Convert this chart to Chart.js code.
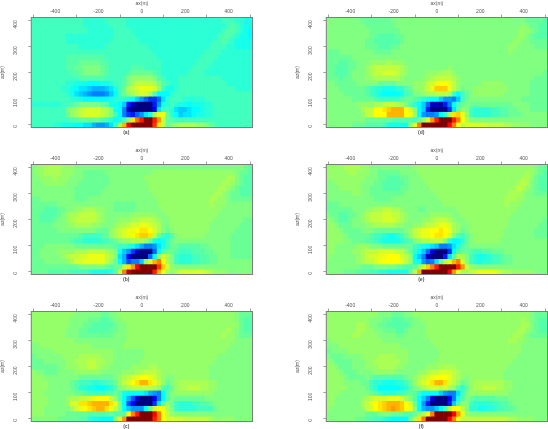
<!DOCTYPE html>
<html>
<head>
<meta charset="utf-8">
<style>
  html, body { margin: 0; background: #fff; overflow: hidden; }
  canvas { position: absolute; }
</style>
<script src="https://cdn.jsdelivr.net/npm/chart.js@4/dist/chart.umd.min.js"></script>
</head>
<body>
<script>
const xValues = [-500,-480,-460,-440,-420,-400,-380,-360,-340,-320,-300,-280,-260,-240,-220,-200,-180,-160,-140,-120,-100,-80,-60,-40,-20,0,20,40,60,80,100,120,140,160,180,200,220,240,260,280,300,320,340,360,380,400,420,440,460,480,500];
const zValues = [400,380,360,340,320,300,280,260,240,220,200,180,160,140,120,100,80,60,40,20,0];
const xTicks = [-400,-200,0,200,400];
const zTicks = [0,100,200,300,400];
const captions = ["(a)","(b)","(c)","(d)","(e)","(f)"];

// amplitudes, clipped to +-20, rows from z=400 down to z=0
const panelA = [
[-3,-3,-3,-3,-3,-3,-3,-3,-3,-3, -3,-3,-4,-4,-4,-4,-4,-3,-3,-3, -3,-3,-4,-4,-4,-4,-4,-4,-4,-4, -4,-4,-4,-4,-4,-4,-4,-4,-4,-4, -4,-4,-4,-4,-3,-3,-3,-4,-4,-5, -5],
[-3,-3,-3,-3,-3,-3,-3,-3,-3,-3, -3,-3,-4,-4,-4,-4,-4,-4,-3,-3, -3,-3,-4,-4,-4,-4,-4,-4,-4,-4, -4,-4,-4,-4,-4,-4,-4,-4,-4,-4, -4,-4,-4,-4,-4,-3,-2,-3,-4,-5, -5],
[-3,-3,-3,-3,-3,-3,-3,-3,-3,-3, -3,-3,-3,-4,-4,-4,-4,-4,-4,-3, -3,-3,-3,-4,-4,-4,-4,-4,-4,-4, -4,-4,-4,-4,-4,-4,-4,-4,-4,-4, -4,-4,-4,-4,-3,-2,-2,-3,-4,-5, -6],
[-3,-3,-3,-3,-3,-3,-3,-3,-4,-4, -4,-4,-4,-4,-4,-4,-4,-4,-4,-3, -3,-3,-3,-3,-4,-4,-4,-4,-4,-4, -4,-4,-4,-4,-4,-4,-4,-4,-4,-4, -4,-4,-4,-3,-2,-2,-3,-4,-5,-5, -6],
[-3,-3,-3,-3,-3,-3,-3,-3,-4,-4, -4,-4,-4,-4,-4,-4,-4,-4,-3,-3, -3,-3,-3,-3,-3,-4,-4,-4,-4,-4, -4,-4,-4,-4,-4,-4,-4,-4,-4,-4, -4,-4,-3,-3,-2,-3,-4,-5,-5,-5, -5],
[-3,-3,-3,-3,-3,-3,-3,-3,-3,-3, -3,-4,-4,-4,-4,-4,-4,-3,-3,-3, -3,-3,-3,-3,-3,-3,-3,-4,-4,-4, -4,-4,-4,-4,-4,-4,-4,-4,-4,-4, -4,-3,-3,-3,-3,-4,-4,-5,-5,-5, -5],
[-3,-3,-3,-3,-3,-3,-3,-3,-3,-3, -3,-3,-3,-3,-3,-3,-3,-3,-3,-3, -3,-3,-3,-3,-3,-3,-3,-3,-4,-4, -4,-4,-4,-4,-4,-4,-4,-4,-4,-4, -3,-3,-3,-3,-4,-4,-4,-4,-4,-4, -4],
[-3,-3,-3,-3,-3,-3,-3,-3,-2,-2, -2,-2,-2,-2,-2,-2,-2,-3,-3,-3, -3,-3,-3,-3,-3,-3,-3,-3,-3,-4, -4,-4,-4,-4,-4,-4,-4,-4,-4,-3, -3,-3,-3,-4,-4,-4,-4,-4,-4,-4, -4],
[-3,-3,-3,-3,-3,-3,-3,-3,-2,-2, -2,-1,-1,-1,-1,-1,-2,-2,-3,-3, -3,-3,-3,-3,-3,-3,-3,-3,-3,-3, -4,-4,-4,-4,-4,-4,-4,-4,-3,-3, -3,-3,-4,-4,-4,-4,-4,-4,-4,-4, -4],
[-3,-3,-3,-3,-3,-3,-3,-3,-2,-2, -1,-1,0,0,0,0,-1,-2,-3,-3, -3,-3,-3,-2,-2,-2,-3,-3,-3,-3, -4,-4,-4,-4,-4,-4,-4,-3,-3,-3, -3,-4,-4,-4,-4,-4,-4,-4,-4,-4, -4],
[-3,-3,-3,-3,-3,-3,-3,-3,-3,-2, -2,-1,0,0,0,0,-1,-2,-3,-3, -3,-3,-2,-1,-1,-1,-1,-1,-2,-3, -4,-4,-4,-4,-4,-4,-3,-3,-3,-3, -4,-4,-4,-4,-4,-4,-4,-4,-4,-4, -4],
[-3,-3,-3,-3,-3,-3,-3,-3,-3,-3, -3,-2,-2,-2,-2,-2,-2,-3,-3,-3, -3,-2,0,1,1,1,1,1,0,-2, -3,-4,-4,-4,-3,-3,-3,-3,-3,-3, -3,-3,-3,-3,-4,-4,-4,-4,-4,-4, -4],
[-3,-3,-3,-3,-3,-3,-3,-3,-4,-4, -5,-5,-5,-6,-6,-6,-5,-5,-4,-3, -3,-2,0,2,3,3,3,3,2,0, -2,-3,-4,-4,-3,-3,-3,-3,-3,-3, -3,-3,-3,-3,-3,-4,-4,-4,-4,-4, -4],
[-3,-3,-3,-3,-3,-3,-3,-4,-4,-5, -6,-7,-7,-8,-9,-9,-9,-8,-7,-5, -3,-1,2,3,4,5,5,5,4,1, -3,-5,-5,-4,-3,-3,-3,-3,-3,-3, -3,-3,-3,-3,-3,-3,-3,-4,-4,-4, -4],
[-3,-3,-3,-3,-3,-3,-3,-3,-4,-5, -7,-8,-9,-10,-11,-11,-11,-10,-8,-6, -3,-1,1,2,3,4,4,2,-2,-6, -6,-6,-4,-3,-3,-3,-3,-3,-3,-3, -3,-3,-3,-3,-3,-3,-3,-3,-3,-3, -3],
[-3,-3,-3,-3,-3,-3,-3,-3,-3,-4, -4,-5,-6,-6,-6,-6,-6,-6,-5,-4, -4,-4,-5,-6,-8,-10,-12,-14,-14,-12, -7,-4,-3,-3,-3,-4,-4,-4,-4,-4, -3,-3,-3,-3,-3,-3,-3,-3,-3,-3, -3],
[-4,-4,-4,-4,-4,-4,-4,-3,-3,-2, -1,0,0,0,0,0,-1,-2,-5,-5, -6,-8,-15,-18,-20,-20,-20,-20,-15,-10, -5,-4,-3,-4,-5,-5,-6,-5,-5,-5, -4,-4,-3,-3,-3,-3,-3,-3,-3,-3, -3],
[-3,-3,-3,-3,-3,-3,-3,-3,0,1, 2,3,4,4,4,4,3,2,0,-5, -6,-11,-18,-20,-20,-20,-20,-20,-16,-7, -3,-3,-4,-7,-8,-8,-7,-6,-6,-5, -4,-4,-3,-3,-3,-3,-3,-3,-3,-3, -3],
[-3,-3,-3,-3,-3,-3,-3,-3,-1,1, 2,3,4,4,4,4,3,2,0,-3, -6,-11,-14,-15,-12,-10,-7,-5,2,5, 5,-1,-4,-6,-8,-7,-7,-6,-5,-5, -4,-4,-3,-3,-3,-3,-3,-3,-3,-3, -3],
[-3,-3,-3,-3,-3,-3,-3,-3,-3,-2, -2,-1,-1,-1,-1,-1,-2,-3,-4,-6, -5,-3,1,7,12,15,20,20,15,10, 3,-1,-2,-3,-3,-3,-3,-3,-3,-3, -3,-3,-3,-3,-3,-3,-3,-3,-3,-3, -3],
[-3,-3,-3,-3,-3,-4,-4,-5,-5,-5, -6,-6,-7,-7,-9,-10,-10,-9,-7,-3, 2,9,16,20,20,20,20,20,14,7, 3,-1,0,1,2,2,2,2,1,1, 0,-1,-2,-3,-3,-3,-3,-3,-3,-3, -3]
];

const panelB = [
[0,1,1,2,2,2,2,1,1,1, 0,0,0,0,0,0,0,0,0,0, 0,0,0,0,0,0,0,0,0,0, 0,0,0,0,0,0,0,0,0,0, 0,0,0,0,0,0,0,0,0,-1, -2],
[0,1,1,2,2,2,2,1,1,1, 0,0,-1,-1,-1,-1,-1,0,0,0, 0,0,0,0,0,0,0,0,1,1, 1,1,1,1,1,1,1,1,1,1, 1,1,1,1,1,1,1,0,-1,-1, -2],
[0,0,1,1,1,2,1,1,1,0, 0,0,-1,-1,-1,-1,-1,-1,0,0, 0,0,0,0,0,0,1,1,1,1, 1,1,1,1,1,1,1,1,1,1, 1,1,1,1,1,2,2,0,-1,-2, -2],
[0,0,0,1,1,1,1,1,0,0, 0,-1,-1,-1,-1,-1,-1,-1,0,0, 0,0,0,0,0,0,0,1,1,1, 1,1,1,1,1,1,1,1,1,1, 1,1,1,1,2,2,1,0,-1,-2, -2],
[0,0,0,0,0,0,0,0,0,0, -1,-1,-1,-1,-1,-1,-1,0,0,0, 0,0,0,0,0,0,0,1,1,1, 1,1,1,1,1,1,1,1,1,1, 1,1,1,2,2,1,0,-1,-2,-2, -2],
[0,0,0,0,0,0,0,0,0,0, -1,-1,-1,-1,-1,-1,0,0,0,0, 0,0,0,0,0,0,0,0,1,1, 1,1,1,1,1,1,1,1,1,1, 1,1,2,2,1,0,-1,-1,-2,-2, -2],
[-1,-1,0,0,0,0,0,0,0,0, -1,-1,-1,0,0,0,0,0,0,0, 0,0,0,0,0,0,0,0,0,1, 1,1,1,1,1,1,1,1,1,1, 1,2,2,1,1,0,-1,-1,-1,-1, -1],
[-1,-1,-1,-1,-1,-1,0,0,0,0, 0,0,0,0,0,0,0,0,0,-1, -1,-1,-1,-1,0,0,0,0,0,1, 1,1,1,1,1,1,1,1,1,1, 1,2,1,1,1,0,0,0,0,0, 0],
[-1,-1,-1,-2,-2,-2,-1,-1,0,0, 1,1,2,2,2,1,1,0,0,-1, -1,-1,-1,-1,0,0,0,0,0,0, 1,1,1,1,1,1,1,1,1,1, 1,1,1,1,0,0,0,0,0,0, 0],
[-1,-1,-2,-2,-2,-2,-1,0,1,2, 2,3,3,3,3,2,1,0,0,0, 0,0,0,1,1,1,1,1,1,0, 0,1,1,1,1,1,1,1,1,1, 1,1,1,0,0,0,0,0,0,0, 0],
[-1,-1,-2,-2,-2,-1,0,0,1,2, 3,3,3,3,3,2,1,0,0,0, 1,1,1,2,2,3,3,3,2,1, 0,0,1,1,1,1,1,1,1,1, 1,1,0,0,0,0,0,0,0,-1, -1],
[-1,-1,-1,-1,-1,0,0,0,1,1, 2,2,2,2,1,1,0,0,0,1, 2,2,3,4,4,5,5,4,3,2, 0,0,1,1,1,1,1,1,1,1, 1,0,0,0,0,0,0,0,-1,-1, -1],
[-1,-1,-1,-1,-1,-1,0,0,0,0, 0,0,0,0,0,-1,-1,-1,1,2, 3,4,5,5,6,7,7,6,4,2, 0,-1,0,1,1,1,1,1,1,1, 1,0,0,0,0,0,0,-1,-1,-1, -1],
[-1,-1,-1,-1,-1,-1,-1,-1,-1,-1, -1,-2,-3,-3,-3,-3,-2,-1,1,2, 3,4,5,6,7,8,8,7,3,-1, -3,-4,-2,0,1,1,1,1,1,1, 0,0,0,0,0,0,-1,-1,-1,-1, -1],
[-1,-1,-1,-1,-1,-1,-1,-1,-1,-2, -3,-3,-4,-4,-4,-4,-3,-3,-2,-1, 0,1,1,2,2,2,1,-1,-5,-6, -5,-3,-1,0,0,0,0,0,0,0, 0,0,0,0,0,0,-1,-1,-1,-1, -1],
[-1,-1,-1,0,0,0,0,0,0,0, -1,-1,-1,-1,-1,-1,-1,-1,-1,-2, -3,-3,-4,-5,-7,-9,-11,-11,-10,-7, -5,-3,-1,-1,-2,-2,-2,-2,-2,-1, -1,0,0,0,0,0,-1,-1,-1,-1, -1],
[-1,-1,0,0,0,0,1,1,1,1, 2,2,2,3,3,3,3,2,1,0, -5,-8,-10,-14,-18,-20,-20,-20,-12,-6, -2,-1,-1,-2,-3,-3,-3,-2,-2,-2, -1,-1,0,0,0,0,-1,-1,-1,-1, -1],
[-1,-1,0,0,0,0,0,1,2,3, 3,4,4,5,5,5,5,3,2,0, -7,-9,-16,-20,-20,-20,-20,-12,-6,1, 4,2,0,-3,-4,-4,-4,-3,-3,-2, -2,-1,-1,0,0,0,-1,-1,-1,-1, -1],
[-1,-1,-1,0,0,0,0,0,1,2, 4,4,5,5,5,5,5,3,1,-1, -6,-9,-13,-11,-11,-8,1,4,9,11, 6,2,0,-3,-4,-4,-4,-3,-3,-2, -2,-1,-1,0,0,0,0,0,0,0, 0],
[-1,-1,-1,-1,-1,-1,-1,-1,-1,-1, -1,0,0,0,0,0,0,-1,-2,-1, -1,3,7,10,16,20,20,20,20,14, 8,4,1,0,0,0,0,0,0,0, 0,0,0,0,0,0,0,0,0,0, 0],
[-1,-1,-1,-1,-2,-2,-2,-2,-2,-3, -3,-3,-3,-4,-5,-5,-5,-5,-4,-2, 3,11,18,20,20,20,20,20,15,9, 5,2,1,2,4,4,4,4,4,4, 3,2,1,1,1,0,0,0,0,0, 0]
];

const panelC = [
[1,1,1,1,1,1,1,1,1,1, 0,0,0,0,0,0,-1,-1,0,0, 1,1,1,1,1,1,1,1,1,1, 1,1,1,1,1,1,1,1,1,1, 1,1,1,1,1,1,1,0,-1,-1, -1],
[1,1,1,1,1,1,1,1,1,0, 0,0,0,-1,-1,-1,-2,-2,-1,0, 0,1,1,1,1,1,1,1,1,1, 1,1,1,1,1,1,1,1,1,1, 1,1,1,1,1,1,1,0,-1,-2, -2],
[1,1,1,1,1,1,1,1,1,0, 0,0,-1,-1,-2,-2,-2,-2,-2,-1, 0,0,1,1,1,1,1,1,1,1, 1,1,1,1,1,1,1,1,1,1, 1,1,1,1,1,1,1,1,-1,-2, -2],
[1,1,1,1,1,1,1,1,0,0, 0,-1,-1,-2,-2,-2,-2,-2,-1,-1, 0,0,1,1,1,1,1,1,1,1, 1,1,1,1,1,1,1,1,1,1, 1,1,1,1,1,2,1,0,-1,-2, -2],
[1,1,1,1,1,1,1,1,0,0, 0,-1,-1,-1,-1,-1,-1,-1,-1,0, 0,0,1,1,1,1,1,1,1,1, 1,1,1,1,1,1,1,1,1,1, 1,1,1,1,2,1,1,0,-1,-1, -1],
[1,1,1,1,1,1,1,1,1,1, 0,0,0,0,0,0,0,0,0,0, 0,0,1,1,1,1,1,1,1,1, 1,1,1,1,1,1,1,1,1,1, 1,1,1,1,1,1,1,0,0,0, 0],
[0,0,1,1,1,1,1,1,1,1, 1,1,1,1,0,0,0,0,0,0, 0,1,1,1,1,1,1,1,1,1, 1,1,1,1,1,1,1,1,1,1, 1,1,1,1,1,1,0,0,0,0, 0],
[0,0,0,0,0,1,1,1,1,1, 1,1,1,1,1,1,1,1,1,0, 0,0,0,0,0,0,1,1,1,1, 1,1,1,1,1,1,1,1,1,1, 1,1,1,1,1,0,0,0,0,0, 0],
[-1,0,0,0,0,0,0,1,1,1, 1,2,2,2,2,2,1,1,1,0, 0,0,0,0,0,0,1,1,1,1, 1,1,1,1,1,1,1,1,1,1, 1,1,1,0,0,0,0,0,0,0, 0],
[-1,-1,-1,0,0,0,0,0,1,1, 2,2,2,3,3,2,2,1,1,0, 0,0,0,0,0,1,1,1,1,1, 1,1,1,1,1,1,1,1,1,1, 1,1,0,0,0,0,0,0,0,0, 0],
[-1,-1,-1,-1,-1,-1,0,0,1,1, 1,2,2,3,3,2,1,1,0,0, 0,0,0,1,1,1,1,2,2,1, 1,1,1,1,1,1,1,1,1,1, 1,0,0,0,0,0,0,0,0,0, 0],
[1,0,0,-1,-1,-1,0,0,0,0, 1,1,1,1,1,1,0,0,0,0, 0,1,1,1,2,2,3,3,3,2, 1,1,1,1,1,1,1,1,1,1, 1,0,0,0,0,0,0,0,0,0, 0],
[1,1,1,0,0,0,0,0,0,0, 0,-1,-1,-1,-1,-1,-1,-1,-1,0, 1,2,3,4,5,6,6,5,4,2, 1,0,0,1,1,1,1,1,1,1, 1,0,0,0,0,0,0,0,0,0, 0],
[1,1,1,1,0,0,0,0,0,-1, -2,-3,-3,-3,-4,-4,-3,-3,-2,-1, 1,3,4,6,7,9,9,7,5,3, 1,-1,0,1,2,2,2,2,2,2, 2,1,1,0,0,0,0,0,0,0, 0],
[1,1,1,1,0,0,0,0,0,-1, -2,-4,-4,-5,-5,-6,-6,-5,-4,-2, 0,1,2,3,3,3,3,3,2,1, -2,-3,-1,1,2,2,3,3,3,2, 2,1,1,0,0,0,0,0,0,0, 0],
[1,1,1,0,0,0,0,0,0,0, -1,-1,-2,-3,-3,-3,-3,-2,-2,-1, -2,-5,-6,-6,-6,-6,-7,-9,-10,-11, -6,-2,0,1,1,1,1,1,1,1, 1,1,0,0,0,0,0,0,0,0, 0],
[1,1,1,1,0,0,0,0,1,2, 2,3,3,4,5,6,6,6,3,1, -2,-6,-9,-13,-17,-20,-20,-20,-16,-11, -6,-2,0,-1,-1,-1,-1,-1,-1,-1, 0,0,0,0,0,0,0,0,0,0, 0],
[1,1,1,1,0,0,0,0,1,4, 4,7,7,8,9,9,9,9,7,5, 0,-6,-13,-16,-20,-20,-20,-20,-14,-7, -2,1,0,-3,-4,-4,-4,-3,-3,-2, -2,-1,0,0,0,0,0,0,0,0, 0],
[1,1,1,0,0,0,0,0,0,2, 4,5,6,7,8,9,9,7,5,3, 0,-6,-8,-10,-10,-10,-6,-1,4,6, 5,2,0,-3,-4,-4,-4,-4,-3,-3, -3,-3,-1,0,0,0,0,0,0,0, 0],
[1,1,1,0,0,0,0,0,-1,-1, -1,-1,-1,-2,-2,-2,-2,-2,-1,-2, -2,-2,6,11,15,20,20,20,16,11, 6,3,1,0,0,0,0,0,0,0, 0,0,0,0,0,0,0,0,0,0, 0],
[0,0,0,0,0,0,-1,-1,-1,-1, -1,-2,-2,-4,-5,-5,-6,-6,-6,1, 4,10,20,20,20,20,20,20,15,11, 6,4,4,4,4,3,3,3,3,3, 3,2,1,1,1,1,1,0,0,0, 0]
];

const panelD = [
[0,0,0,0,0,0,0,0,-1,-1, -1,-1,-1,-1,-1,0,0,0,0,0, 0,0,0,0,0,0,0,0,0,0, 0,0,0,0,0,0,0,0,0,0, 0,0,0,0,0,0,-1,-1,-1,-1, -2],
[0,0,0,0,0,0,0,0,0,-1, -1,-1,-1,-1,-1,-1,0,0,0,0, 0,0,0,0,0,0,0,0,0,0, 0,0,0,0,0,0,0,0,0,0, 0,0,0,0,0,1,0,-1,-1,-2, -2],
[0,0,0,0,0,0,0,0,0,0, -1,-1,-1,-1,-1,-1,-1,0,0,0, 0,0,0,0,0,0,0,0,0,0, 0,0,0,0,0,0,0,0,0,0, 0,0,0,0,1,1,1,0,-1,-2, -2],
[0,0,0,0,0,0,0,0,0,0, -1,-1,-2,-2,-2,-2,-1,-1,0,0, 0,0,0,0,0,0,0,0,0,0, 0,0,0,0,0,0,0,0,0,0, 0,0,0,0,1,1,0,-1,-2,-2, -2],
[0,0,0,0,0,0,0,0,0,-1, -1,-2,-2,-2,-2,-2,-2,-1,0,0, 0,0,0,0,0,0,0,0,0,0, 0,0,0,0,0,0,0,0,0,0, 0,0,0,1,1,0,0,-1,-1,-1, -1],
[0,0,0,0,0,0,0,0,0,-1, -1,-1,-2,-2,-2,-1,-1,0,0,0, 0,0,0,0,0,0,0,0,0,0, 0,0,0,0,0,0,0,0,0,0, 0,0,1,1,0,0,0,0,-1,-1, -1],
[-1,-1,-1,0,0,0,0,0,0,0, 0,-1,-1,-1,-1,0,0,0,0,0, 0,0,0,0,0,0,0,0,0,0, 0,0,0,0,0,0,0,0,0,0, 0,0,1,0,0,0,0,0,0,0, 0],
[-1,-1,-1,-1,-1,-1,0,0,0,0, 0,0,0,0,0,0,0,0,0,0, 0,0,0,0,0,0,0,0,0,0, 0,0,0,0,0,0,0,0,0,0, 0,0,0,0,0,0,0,0,0,0, 0],
[-1,-1,-1,-2,-2,-1,-1,0,0,0, 1,1,1,1,2,1,1,1,0,0, 0,0,0,0,0,0,0,0,0,0, 0,0,0,0,0,0,0,0,0,0, 0,0,0,0,0,0,0,0,0,0, 0],
[-1,-1,-2,-2,-2,-1,-1,0,0,1, 2,3,3,3,3,3,3,2,1,0, 0,0,0,0,0,0,0,0,1,0, 0,0,0,0,0,0,0,0,0,0, 0,0,0,0,0,0,0,0,0,0, 0],
[-1,-1,-2,-2,-2,-1,0,0,0,1, 2,3,3,4,4,4,3,2,1,0, 0,0,0,1,1,1,2,2,2,1, 0,0,0,0,0,0,0,0,0,0, 0,0,0,0,0,0,0,0,0,0, -1],
[-1,-1,-1,-2,-1,-1,0,0,0,1, 1,2,2,2,2,2,2,1,0,0, 0,0,1,1,2,3,3,3,3,2, 1,0,0,0,0,0,0,0,0,0, 0,0,0,0,0,0,0,0,-1,-1, -1],
[0,0,-1,-1,-1,-1,-1,0,0,0, 0,0,-1,-1,-1,-1,0,0,0,0, 1,1,1,3,4,5,6,6,5,3, 1,0,0,0,0,0,1,1,1,1, 1,0,0,0,0,0,0,-1,-1,-1, -1],
[0,0,0,-1,-1,-1,-1,-1,-1,-2, -3,-4,-4,-5,-5,-5,-4,-4,-2,-1, 1,1,2,3,5,8,8,8,5,3, 1,-1,0,0,1,1,1,1,1,1, 1,1,0,0,0,0,0,-1,-1,-1, -1],
[0,0,0,0,-1,-1,-1,-1,-1,-2, -3,-4,-5,-6,-6,-6,-6,-5,-3,-2, 0,0,1,2,2,3,3,3,2,-3, -6,-3,-1,0,1,1,1,1,1,1, 1,0,0,0,0,0,0,-1,-1,-1, -1],
[0,0,0,0,0,0,-1,-1,-1,-1, -1,-2,-3,-3,-3,-3,-3,-2,-1,-1, -2,-3,-4,-5,-6,-6,-8,-10,-10,-11, -8,-3,-1,0,0,0,0,0,0,0, 0,0,0,0,0,-1,-1,-1,-1,-1, -1],
[0,0,0,0,0,0,0,1,1,1, 1,2,2,3,3,3,2,2,0,-2, -4,-6,-8,-12,-18,-18,-19,-15,-11,-6, -3,-1,0,-1,-1,-1,-1,-1,-1,-1, -1,-1,-1,0,0,0,0,-1,-1,-1, -1],
[0,0,0,0,0,0,0,0,2,3, 3,6,6,7,8,9,9,9,6,4, 0,-6,-8,-15,-20,-20,-20,-20,-14,-7, -2,1,0,-3,-4,-4,-4,-4,-3,-3, -2,-2,-1,-1,0,0,0,-1,-1,-1, -1],
[0,0,0,0,0,0,0,0,1,3, 3,6,6,6,9,9,9,9,6,5, 1,-6,-10,-11,-11,-10,-6,-3,2,7, 8,5,1,-3,-4,-4,-4,-4,-3,-3, -2,-2,-1,-1,-1,0,0,0,0,0, 0],
[0,0,0,0,0,0,0,0,0,-1, -1,-1,-1,-1,-1,-2,-2,-2,-2,-2, -3,-1,1,4,10,15,20,20,20,15, 11,6,2,0,0,0,0,0,0,0, 0,0,0,0,0,0,0,0,0,0, 0],
[0,0,0,0,0,0,-1,-1,-1,-2, -2,-2,-2,-3,-5,-5,-5,-5,-5,1, 5,11,20,20,20,20,20,20,16,11, 6,3,4,4,4,4,4,3,3,3, 3,2,2,1,1,1,1,0,0,0, 0]
];

const panelE = [
[1,1,1,1,2,2,2,2,1,1, 0,0,0,0,0,0,0,0,0,0, 1,1,1,1,1,1,1,1,1,1, 1,1,1,1,1,1,1,1,1,1, 1,1,1,1,1,1,1,1,0,-1, -1],
[1,1,1,1,1,2,2,1,1,1, 0,0,-1,-1,-1,-1,-1,0,0,0, 0,1,1,1,1,1,1,1,1,1, 1,1,1,1,1,1,1,1,1,1, 1,1,1,1,1,1,2,1,0,-1, -2],
[1,1,1,1,1,1,1,1,1,0, 0,0,-1,-1,-2,-2,-2,-1,-1,0, 0,0,1,1,1,1,1,1,1,1, 1,1,1,1,1,1,1,1,1,1, 1,1,1,1,1,2,2,1,-1,-2, -2],
[0,0,1,1,1,1,1,1,0,0, 0,-1,-1,-2,-2,-2,-2,-2,-1,0, 0,0,0,1,1,1,1,1,1,1, 1,1,1,1,1,1,1,1,1,1, 1,1,1,1,2,3,2,0,-1,-2, -2],
[0,0,0,1,1,1,1,1,0,0, -1,-1,-1,-2,-2,-2,-2,-1,-1,0, 0,0,0,0,1,1,1,1,1,1, 1,1,1,1,1,1,1,1,1,1, 1,1,1,2,3,2,1,0,-1,-2, -2],
[0,0,0,0,0,0,1,1,0,0, -1,-1,-1,-1,-1,-1,-1,-1,0,0, 0,0,0,0,0,1,1,1,1,1, 1,1,1,1,1,1,1,1,1,1, 1,1,2,2,2,1,0,0,-1,-1, -1],
[0,0,0,0,0,0,0,0,0,0, 0,-1,-1,-1,-1,0,0,0,0,0, 0,0,0,0,0,0,1,1,1,1, 1,1,1,1,1,1,1,1,1,1, 1,2,2,2,1,1,0,0,0,0, 0],
[-1,-1,-1,0,0,0,0,0,0,0, 0,0,0,0,0,0,0,0,0,0, 0,0,0,0,0,0,0,1,1,1, 1,1,1,1,1,1,1,1,1,1, 1,2,1,1,1,0,0,0,0,0, 0],
[-1,-1,-1,-1,-1,-1,0,0,0,1, 1,2,2,3,3,2,2,1,0,0, 0,-1,-1,0,0,0,0,0,0,0, 1,1,1,1,1,1,1,1,1,1, 1,1,1,1,0,0,0,0,0,0, 0],
[0,-1,-1,-2,-2,-1,-1,0,1,2, 3,3,3,4,4,3,3,2,1,0, 0,0,0,0,1,1,1,1,1,0, 0,1,1,1,1,1,1,1,1,1, 1,1,1,0,0,0,0,0,0,0, 0],
[1,0,-1,-2,-2,-1,0,0,1,2, 3,3,3,4,4,4,3,2,1,0, 0,0,1,1,2,3,3,3,2,1, 0,0,1,1,1,1,1,1,1,1, 1,1,0,0,0,0,0,0,0,0, -1],
[1,1,0,-1,-1,-1,0,0,0,1, 1,2,2,2,2,2,1,1,0,0, 1,1,2,3,3,4,5,5,4,2, 1,0,0,1,1,1,1,1,1,1, 1,1,0,0,0,0,0,0,0,-1, -1],
[1,1,1,0,-1,-1,-1,-1,0,0, 0,-1,-1,-1,-1,-1,-1,-1,0,1, 3,4,5,5,6,6,7,6,5,2, 1,-1,0,1,1,1,1,1,1,1, 1,0,0,0,0,0,0,0,-1,-1, -1],
[1,1,1,1,0,-1,-1,-1,-1,-1, -2,-3,-3,-4,-5,-5,-4,-3,-1,1, 3,4,5,5,6,7,7,6,4,0, -2,-3,-1,0,1,1,1,1,1,1, 1,0,0,0,0,0,0,0,-1,-1, -1],
[1,1,1,1,0,0,-1,-1,-1,-2, -2,-3,-4,-5,-5,-5,-5,-4,-3,-2, 0,1,2,2,3,3,3,0,-4,-6, -6,-4,-1,0,1,1,1,1,1,1, 0,0,0,0,0,0,0,0,0,0, 0],
[1,1,0,0,0,0,0,1,1,1, 0,0,0,-1,-1,-1,-1,-1,-1,-1, -3,-4,-5,-6,-7,-8,-11,-11,-10,-7, -5,-2,-1,0,0,0,0,0,0,0, 0,0,0,0,0,0,0,0,0,0, 0],
[1,1,0,0,0,0,1,1,2,3, 3,3,4,4,4,4,3,3,1,-1, -4,-6,-8,-12,-17,-20,-20,-20,-14,-6, -2,-1,-1,-2,-3,-3,-2,-2,-1,-1, -1,0,0,0,0,0,0,0,0,0, 0],
[1,0,0,0,0,0,0,1,2,3, 4,4,5,5,6,6,6,4,3,1, -6,-8,-11,-18,-20,-20,-20,-15,-7,-2, 2,2,0,-3,-4,-5,-5,-4,-3,-3, -2,-1,-1,0,0,0,0,0,0,0, 0],
[0,0,0,0,0,0,0,1,2,3, 3,4,5,6,6,6,6,5,3,1, -5,-6,-10,-12,-11,-7,-1,3,5,9, 11,4,0,-3,-4,-5,-4,-4,-3,-3, -2,-1,-1,0,0,0,0,0,0,0, 0],
[0,0,0,0,0,0,0,0,-1,-1, -1,0,0,0,0,0,-1,-1,-2,-2, -1,1,4,8,11,15,20,20,20,20, 15,10,3,1,0,0,0,0,0,0, 0,0,0,0,0,0,0,0,0,0, 0],
[0,0,0,0,-1,-1,-1,-2,-2,-2, -3,-3,-4,-4,-5,-5,-5,-5,-5,-1, 3,9,20,20,20,20,20,20,16,10, 5,2,2,3,4,5,5,5,5,4, 3,2,2,1,1,1,1,1,0,0, 0]
];

const panelF = [
[1,1,1,1,1,1,1,1,1,1, 1,1,0,0,0,-1,-1,-1,0,0, 1,1,1,1,1,1,1,1,1,1, 1,1,1,1,1,1,1,1,1,1, 1,1,1,1,1,1,1,0,-1,-1, -1],
[1,1,1,1,1,1,1,1,1,1, 0,0,0,-1,-1,-2,-2,-2,-1,-1, 0,0,1,1,1,1,1,1,1,1, 1,1,1,1,1,1,1,1,1,1, 1,1,1,1,1,2,1,0,-1,-2, -2],
[1,1,1,1,1,1,1,2,2,1, 0,0,-1,-1,-2,-2,-2,-2,-2,-1, 0,0,0,1,1,1,1,1,1,1, 1,1,1,1,1,1,1,1,1,1, 1,1,1,1,1,2,2,0,-1,-2, -2],
[1,1,1,1,1,1,1,2,2,1, 1,0,0,-1,-1,-1,-2,-2,-1,0, 0,0,0,1,1,1,1,1,1,1, 1,1,1,1,1,1,1,1,1,1, 1,1,1,1,2,2,1,0,-1,-2, -2],
[1,1,1,1,1,1,2,2,1,1, 1,1,0,0,0,0,-1,-1,0,0, 0,0,0,1,1,1,1,1,1,1, 1,1,1,1,1,1,1,1,1,1, 1,1,1,2,2,1,0,-1,-1,-1, -1],
[0,1,1,1,1,1,1,1,1,1, 1,1,1,0,0,0,0,0,0,0, 0,0,0,0,1,1,1,1,1,1, 1,1,1,1,1,1,1,1,1,1, 1,1,2,2,1,1,0,0,0,0, 0],
[0,0,0,1,1,1,1,1,1,1, 1,1,1,1,1,1,1,0,0,0, 0,0,0,0,0,1,1,1,1,1, 1,1,1,1,1,1,1,1,1,1, 1,1,1,1,1,0,0,0,0,0, 0],
[-1,0,0,0,0,1,1,1,1,1, 1,1,1,1,1,1,1,1,1,0, 0,0,0,0,0,0,1,1,1,1, 1,1,1,1,1,1,1,1,1,1, 1,1,1,1,1,0,0,0,0,0, 0],
[0,-1,-1,-1,0,0,0,0,1,1, 1,1,2,2,2,2,1,1,1,0, 0,0,0,0,0,0,1,1,1,1, 1,1,1,1,1,1,1,1,1,1, 1,1,1,1,0,0,0,0,0,0, 0],
[1,0,-1,-1,-1,-1,0,0,0,1, 1,2,2,2,2,2,2,1,1,0, 0,0,0,0,0,1,1,1,1,1, 1,1,1,1,1,1,1,1,1,1, 1,1,1,0,0,0,0,0,0,0, 0],
[1,1,0,-1,-1,-1,0,0,0,1, 1,1,2,2,2,2,1,1,0,0, 0,0,0,1,1,1,2,2,2,2, 1,1,1,1,1,1,1,1,1,1, 1,1,0,0,0,0,0,0,0,0, 0],
[1,1,1,0,-1,-1,-1,0,0,0, 0,1,1,1,1,1,0,0,0,0, 0,1,1,2,3,3,4,4,4,3, 2,1,1,1,1,1,1,1,1,1, 1,0,0,0,0,0,0,0,0,0, 0],
[1,1,1,1,0,-1,-1,-1,-1,0, -1,-2,-2,-2,-2,-2,-2,-2,-1,0, 1,2,3,4,5,6,6,6,5,3, 2,1,0,1,1,1,1,1,1,1, 1,0,0,0,0,0,0,0,0,0, 0],
[1,1,1,1,0,0,0,0,-1,-1, -3,-4,-4,-5,-5,-5,-4,-4,-3,-1, 1,3,4,5,7,9,9,7,4,3, 1,-1,0,1,2,2,2,2,2,2, 2,1,1,0,0,0,0,0,0,0, 0],
[1,1,1,1,1,0,0,0,0,-1, -3,-4,-6,-6,-6,-6,-6,-5,-4,-2, 0,1,2,3,4,4,3,4,2,1, -2,-4,-1,1,2,2,3,3,3,2, 2,1,1,0,0,0,0,0,0,0, 0],
[1,1,1,0,0,0,0,0,0,0, -1,-2,-3,-4,-4,-4,-3,-3,-2,-1, -2,-4,-6,-6,-6,-6,-8,-10,-11,-11, -7,-3,0,1,1,1,1,1,1,1, 1,1,0,0,0,0,0,0,0,0, 0],
[1,1,0,0,0,0,0,0,1,2, 3,4,4,4,5,5,5,4,2,0, -2,-6,-8,-11,-17,-20,-20,-20,-16,-11, -5,-2,0,-1,-2,-2,-2,-2,-2,-1, -1,-1,0,0,0,0,0,0,0,0, 0],
[1,1,0,0,0,0,0,0,2,3, 5,6,7,8,9,9,9,8,6,4, -1,-6,-10,-15,-20,-20,-20,-20,-15,-8, -3,1,0,-3,-4,-4,-4,-4,-3,-3, -2,-2,-1,0,0,0,0,0,0,0, 0],
[1,0,0,0,0,0,0,0,1,3, 4,6,7,8,9,10,9,8,6,5, 0,-6,-9,-10,-10,-8,-6,-2,3,6, 6,3,0,-4,-4,-5,-5,-4,-4,-3, -3,-2,-2,-1,0,0,0,0,0,0, 0],
[0,0,0,0,0,0,0,0,0,-1, -1,-1,0,0,0,-1,-1,-1,-2,-2, -1,1,2,5,11,20,20,20,20,16, 10,5,1,0,0,0,0,0,0,0, 0,0,0,0,0,0,0,0,0,0, 0],
[0,0,0,0,0,0,0,-1,-1,-2, -2,-3,-3,-4,-5,-6,-6,-6,-6,-1, 3,7,11,20,20,20,20,20,16,11, 6,3,3,3,3,3,3,3,3,3, 3,3,2,2,1,1,1,1,0,0, 0]
];

const panels = [panelA, panelB, panelC, panelD, panelE, panelF];
const tops = [0, 147, 294, 0, 147, 294];
const lefts = [0, 0, 0, 295, 295, 295];

// colour ramp stops: dark blue, blue, cyan, yellow, red, dark red
const rampAt = [-20, -16, -6, 6, 16, 20];
const rampRgb = [[0,0,127],[0,0,255],[0,255,255],[255,255,0],[255,0,0],[127,0,0]];

function jet(v) {
  let k = 0;
  while (k < rampAt.length - 2 && v > rampAt[k + 1]) k++;
  const f = (v - rampAt[k]) / (rampAt[k + 1] - rampAt[k]);
  const c = rampRgb[k].map((a, n) => Math.round(a + (rampRgb[k + 1][n] - a) * f));
  return `rgb(${c[0]},${c[1]},${c[2]})`;
}

// grey box around the plot area
const frame = {
  id: "frame",
  afterDatasetsDraw(chart) {
    const { ctx, chartArea: a } = chart;
    ctx.save();
    ctx.strokeStyle = "#7d7d7d";
    ctx.lineWidth = 1;
    ctx.strokeRect(a.left, a.top, a.right - a.left, a.bottom - a.top);
    ctx.restore();
  },
};

const tinyFont = { family: "Liberation Sans", size: 5 };
const inkColor = "#555";

// fixed axis sizes so every plot area lands in the same place
function fixBox(s, w, h) {
  if (w) s.width = w;
  if (h) s.height = h;
  s.paddingLeft = s.paddingRight = s.paddingTop = s.paddingBottom = 0;
}

function makePanel(rows, i) {
  const canvas = document.createElement("canvas");
  canvas.width = 254;
  canvas.height = 136;
  canvas.style.left = lefts[i] + "px";
  canvas.style.top = tops[i] + "px";
  document.body.appendChild(canvas);

  const datasets = rows.map((row, r) => ({
    data: row.map(() => [zValues[r] - 10, zValues[r] + 10]),
    backgroundColor: row.map(jet),
    borderWidth: 0,
    barPercentage: 1,
    categoryPercentage: 1,
    grouped: false,
  }));

  new Chart(canvas, {
    type: "bar",
    data: { labels: xValues, datasets },
    plugins: [frame],
    options: {
      responsive: false,
      animation: false,
      devicePixelRatio: 1,
      layout: { padding: { right: 1.5, bottom: 0.5 } },
      plugins: {
        legend: { display: false },
        tooltip: { enabled: false },
        title: {
          display: true,
          position: "bottom",
          text: captions[i],
          color: inkColor,
          font: tinyFont,
          padding: { top: 2, bottom: 0 },
        },
      },
      scales: {
        x: {
          position: "top",
          offset: true,
          afterBuildTicks: (s) => {
            s.ticks = s.ticks.filter((t) => xTicks.includes(xValues[t.value]));
          },
          afterFit: (s) => fixBox(s, 0, 17.5),
          ticks: {
            autoSkip: false,
            maxRotation: 0,
            padding: 0,
            color: inkColor,
            font: tinyFont,
            callback(v) { return xValues[v]; },
          },
          grid: { drawOnChartArea: false, tickLength: 3, tickColor: "#777", tickWidth: 0.7 },
          border: { display: false },
          title: { display: true, text: "ax(m)", color: inkColor, font: tinyFont, padding: { top: 1, bottom: 0 } },
        },
        y: {
          min: -10,
          max: 410,
          afterBuildTicks: (s) => { s.ticks = zTicks.map((value) => ({ value })); },
          afterFit: (s) => fixBox(s, 31.3, 0),
          ticks: {
            autoSkip: false,
            minRotation: 90,
            maxRotation: 90,
            padding: 13,
            color: inkColor,
            font: tinyFont,
          },
          grid: { drawOnChartArea: false, tickLength: 3, tickColor: "#777", tickWidth: 0.7 },
          border: { display: false },
          title: { display: true, text: "az(m)", color: inkColor, font: tinyFont, padding: 0 },
        },
      },
    },
  });
}

panels.forEach(makePanel);
</script>
</body>
</html>
